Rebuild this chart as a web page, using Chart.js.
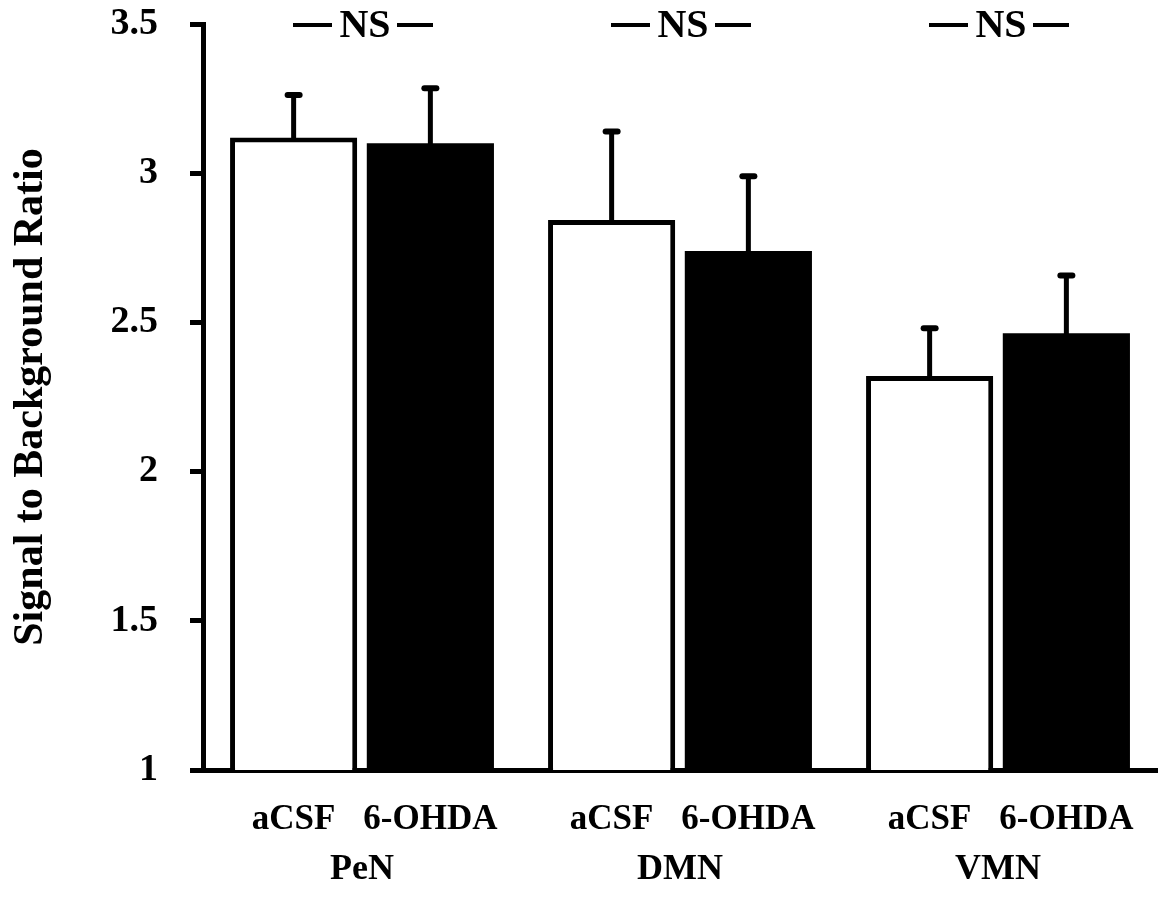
<!DOCTYPE html>
<html>
<head>
<meta charset="utf-8">
<script src="https://cdn.jsdelivr.net/npm/chart.js@4/dist/chart.umd.min.js"></script>
<style>
html,body{margin:0;padding:0;background:#fff;}
#wrap{width:1161px;height:912px;position:relative;}
</style>
</head>
<body>
<div id="wrap"><canvas id="c"></canvas></div>
<script>
const regions = ['PeN', 'DMN', 'VMN'];
const seriesNames = ['aCSF', '6-OHDA'];
const acsfMeans = [3.12, 2.843, 2.32];
const acsfSEM = [0.142, 0.297, 0.16];
const ohdaMeans = [3.10, 2.739, 2.464];
const ohdaSEM = [0.185, 0.251, 0.193];
const sigLabels = ['NS', 'NS', 'NS'];
const yTicks = [1, 1.5, 2, 2.5, 3, 3.5];
const yTitle = 'Signal to Background Ratio';

const FONT = "'Liberation Serif', 'Times New Roman', serif";
const semSets = [acsfSEM, ohdaSEM];

const overlay = {
  id: 'overlay',
  afterDatasetsDraw(chart) {
    const ctx = chart.ctx;
    const y = chart.scales.y;
    ctx.save();
    ctx.strokeStyle = '#000';
    chart.data.datasets.forEach((ds, di) => {
      const meta = chart.getDatasetMeta(di);
      meta.data.forEach((el, i) => {
        const top = y.getPixelForValue(ds.data[i] + semSets[di][i]);
        const base = y.getPixelForValue(ds.data[i]);
        ctx.lineCap = 'butt';
        ctx.lineWidth = 5;
        ctx.beginPath();
        ctx.moveTo(el.x, base + 2);
        ctx.lineTo(el.x, top);
        ctx.stroke();
        ctx.lineCap = 'round';
        ctx.lineWidth = 6;
        ctx.beginPath();
        ctx.moveTo(el.x - 6, top);
        ctx.lineTo(el.x + 6, top);
        ctx.stroke();
      });
    });
    ctx.restore();
  },
  afterDraw(chart) {
    const ctx = chart.ctx;
    const x = chart.scales.x;
    const area = chart.chartArea;
    ctx.save();
    ctx.fillStyle = '#000';
    ctx.strokeStyle = '#000';
    ctx.font = "bold 35px " + FONT;
    ctx.textAlign = 'center';
    ctx.textBaseline = 'middle';
    chart.data.datasets.forEach((ds, di) => {
      const meta = chart.getDatasetMeta(di);
      meta.data.forEach((el) => {
        ctx.fillText(seriesNames[di], el.x, area.bottom + 50);
      });
    });
    ctx.font = "bold 40px " + FONT;
    ctx.lineWidth = 4;
    sigLabels.forEach((s, i) => {
      const cx = x.getPixelForValue(i) + 3;
      const cy = area.top + 1;
      ctx.fillText(s, cx, cy + 2);
      ctx.beginPath();
      ctx.moveTo(cx - 72, cy); ctx.lineTo(cx - 33, cy);
      ctx.moveTo(cx + 32, cy); ctx.lineTo(cx + 68, cy);
      ctx.stroke();
    });
    ctx.restore();
  }
};

new Chart(document.getElementById('c'), {
  type: 'bar',
  data: {
    labels: regions,
    datasets: [
      { label: seriesNames[0], data: acsfMeans, backgroundColor: '#fff', borderColor: '#000', borderWidth: 5, borderSkipped: 'start' },
      { label: seriesNames[1], data: ohdaMeans, backgroundColor: '#000', borderColor: '#000', borderWidth: 0 }
    ]
  },
  options: {
    responsive: true,
    maintainAspectRatio: false,
    animation: false,
    events: [],
    categoryPercentage: 0.86,
    barPercentage: 0.93,
    layout: { padding: { top: 24, right: 4, left: 0, bottom: 0 } },
    plugins: { legend: { display: false }, tooltip: { enabled: false } },
    scales: {
      x: {
        grid: { display: false, drawTicks: false },
        border: { display: true, width: 5, color: '#000' },
        ticks: { color: '#000', font: { family: FONT, size: 36, weight: 'bold' }, padding: 78 },
        afterFit(s) { s.height = 142; s.paddingLeft = 0; s.paddingRight = 0; }
      },
      y: {
        min: 1, max: 3.5,
        afterBuildTicks(s) { s.ticks = yTicks.map(v => ({ value: v })); },
        grid: { drawOnChartArea: false, drawTicks: true, tickLength: 13, tickWidth: 5, tickColor: '#000' },
        border: { display: true, width: 5, color: '#000' },
        ticks: { color: '#000', font: { family: FONT, size: 38, weight: 'bold' }, padding: 32, callback: (v) => String(v) },
        title: { display: true, text: yTitle, color: '#000', font: { family: FONT, size: 42, weight: 'bold' }, padding: { top: 6, bottom: 0 } },
        afterFit(s) { s.width = 203; s.paddingTop = 0; s.paddingBottom = 0; }
      }
    }
  },
  plugins: [overlay]
});
</script>
</body>
</html>
